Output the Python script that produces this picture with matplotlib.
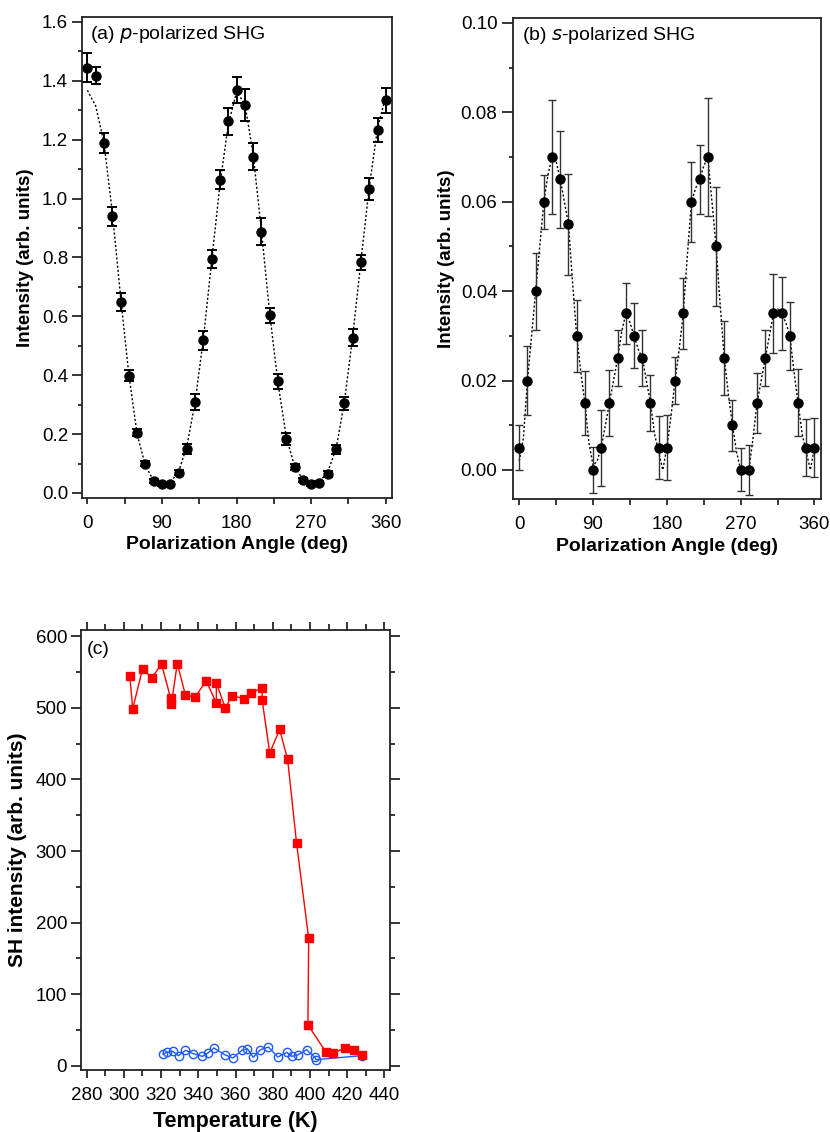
import matplotlib
matplotlib.use("Agg")
import matplotlib.pyplot as plt
from matplotlib.ticker import MultipleLocator, FormatStrFormatter

plt.rcParams["font.family"] = ["Liberation Sans", "DejaVu Sans"]
plt.rcParams["mathtext.fontset"] = "custom"

# (a) p-polarized SHG
angle = [0, 10, 20, 30, 40, 50, 60, 70, 80, 90, 100, 110, 120, 130, 140, 150, 160, 170, 180,
         190, 200, 210, 220, 230, 240, 250, 260, 270, 280, 290, 300, 310, 320, 330, 340, 350, 360]
p_int = [1.445, 1.418, 1.188, 0.940, 0.648, 0.399, 0.204, 0.100, 0.040, 0.030, 0.030, 0.069, 0.148,
         0.309, 0.519, 0.794, 1.064, 1.263, 1.368, 1.318, 1.143, 0.888, 0.603, 0.379, 0.184, 0.089,
         0.044, 0.030, 0.035, 0.064, 0.148, 0.304, 0.528, 0.784, 1.033, 1.233, 1.334]
p_err = [0.048, 0.028, 0.034, 0.032, 0.030, 0.018, 0.012, 0.008, 0.007, 0.007, 0.007, 0.008, 0.017,
         0.028, 0.032, 0.030, 0.032, 0.046, 0.044, 0.055, 0.045, 0.045, 0.024, 0.026, 0.020, 0.010,
         0.008, 0.007, 0.007, 0.009, 0.015, 0.023, 0.028, 0.025, 0.037, 0.040, 0.042]
p_fit = [1.368, 1.315, 1.190, 0.955, 0.668, 0.402, 0.200, 0.092, 0.042, 0.030, 0.036, 0.072, 0.158,
         0.310, 0.525, 0.790, 1.050, 1.252, 1.362, 1.322, 1.150, 0.890, 0.608, 0.372, 0.190, 0.090,
         0.045, 0.030, 0.038, 0.072, 0.150, 0.308, 0.530, 0.788, 1.038, 1.238, 1.348]

# (b) s-polarized SHG
s_int = [0.005, 0.020, 0.040, 0.060, 0.070, 0.065, 0.055, 0.030, 0.015, 0.000, 0.005, 0.015, 0.025,
         0.035, 0.030, 0.025, 0.015, 0.005, 0.005, 0.020, 0.035, 0.060, 0.065, 0.070, 0.050, 0.025,
         0.010, 0.000, 0.000, 0.015, 0.025, 0.035, 0.035, 0.030, 0.015, 0.005, 0.005]
s_err = [0.0050, 0.0077, 0.0086, 0.0060, 0.0127, 0.0109, 0.0113, 0.0081, 0.0072, 0.0051, 0.0085,
         0.0074, 0.0063, 0.0068, 0.0073, 0.0063, 0.0062, 0.0070, 0.0072, 0.0053, 0.0080, 0.0089,
         0.0078, 0.0132, 0.0134, 0.0083, 0.0057, 0.0048, 0.0055, 0.0067, 0.0063, 0.0089, 0.0081,
         0.0076, 0.0075, 0.0063, 0.0066]
fit_angle = [0, 5, 10, 15, 20, 25, 30, 35, 40, 45, 50, 55, 60, 65, 70, 75, 80, 85, 90, 95, 100,
             105, 110, 115, 120, 125, 130, 135, 140, 145, 150, 155, 160, 165, 170, 175, 180, 185,
             190, 195, 200, 205, 210, 215, 220, 225, 230, 235, 240, 245, 250, 255, 260, 265, 270,
             275, 280, 285, 290, 295, 300, 305, 310, 315, 320, 325, 330, 335, 340, 345, 350, 355, 360]
s_fit = [0.002, 0.007, 0.020, 0.030, 0.040, 0.050, 0.060, 0.066, 0.070, 0.069, 0.065, 0.060, 0.055,
         0.042, 0.030, 0.022, 0.015, 0.006, 0.001, 0.002, 0.005, 0.010, 0.015, 0.020, 0.025, 0.031,
         0.035, 0.033, 0.030, 0.027, 0.025, 0.020, 0.015, 0.008, 0.004, 0.000, 0.005, 0.012, 0.020,
         0.027, 0.035, 0.048, 0.060, 0.063, 0.065, 0.068, 0.070, 0.060, 0.050, 0.037, 0.025, 0.017,
         0.010, 0.004, 0.000, 0.000, 0.000, 0.007, 0.015, 0.020, 0.025, 0.030, 0.035, 0.036, 0.035,
         0.033, 0.030, 0.022, 0.015, 0.008, 0.004, 0.000, 0.005]

# (c) temperature dependence
red_T = [303.2, 304.8, 310.1, 314.9, 320.3, 325.1, 325.6, 328.7, 333.1, 338.3, 344.2, 349.7, 349.7,
         354.5, 358.2, 364.5, 368.1, 374.3, 374.3, 378.4, 383.7, 388.0, 392.8, 399.3, 398.9, 408.7,
         412.6, 419.0, 423.5, 427.8]
red_I = [544, 499, 555, 542, 561, 514, 506, 562, 518, 515, 538, 507, 535, 500, 517, 513, 521, 528,
         511, 437, 470, 428, 311, 178, 57, 18.6, 17.7, 25, 22.3, 14.4]
blue_T = [321.0, 323.1, 326.3, 329.4, 333.1, 337.4, 342.2, 345.2, 348.4, 354.2, 358.6, 363.4, 366.4,
          369.5, 373.4, 377.7, 382.7, 387.5, 390.3, 393.4, 398.2, 402.6, 403.3, 427.8]
blue_I = [16.3, 18.6, 20, 14, 21.4, 16.7, 13, 17.7, 24.7, 15.3, 10.7, 21.4, 23.7, 11.6, 22.3, 26,
          12.1, 18.6, 13, 14.9, 22.3, 11.6, 8.4, 14]

TICK_FS = 13.5
LABEL_FS = 14


def style_axes(ax, ymajor_len=7, yminor_len=3, xmajor_len=4.5, xminor_len=4.5, xpad=8, all_sides=False):
    for sp in ax.spines.values():
        sp.set_linewidth(1.3)
        sp.set_color("#222222")
    ax.tick_params(axis="y", which="major", direction="out", length=ymajor_len, width=1.1,
                   labelsize=TICK_FS, pad=3, right=all_sides)
    ax.tick_params(axis="y", which="minor", direction="out", length=yminor_len, width=1.1, right=all_sides)
    ax.tick_params(axis="x", which="major", direction="out", length=xmajor_len, width=1.1,
                   labelsize=TICK_FS, pad=xpad, top=all_sides)
    ax.tick_params(axis="x", which="minor", direction="out", length=xminor_len, width=1.1, top=all_sides)


fig = plt.figure(figsize=(8.3, 11.32), dpi=100)

# panel (a)
ax1 = fig.add_axes([0.0988, 0.5601, 0.3735, 0.4249])
ax1.plot(angle, p_fit, linestyle=(0, (1.5, 1.5)), color="black", linewidth=1.0, zorder=1)
ax1.errorbar(angle, p_int, yerr=p_err, fmt="o", color="black", markersize=6.5,
             elinewidth=1.4, capsize=3.3, capthick=1.4, zorder=2)
ax1.set_xlim(-6.5, 367.5)
ax1.set_ylim(-0.017, 1.617)
ax1.xaxis.set_major_locator(MultipleLocator(90))
ax1.xaxis.set_minor_locator(MultipleLocator(45))
ax1.yaxis.set_major_locator(MultipleLocator(0.2))
ax1.yaxis.set_minor_locator(MultipleLocator(0.1))
ax1.yaxis.set_major_formatter(FormatStrFormatter("%.1f"))
style_axes(ax1)
ax1.set_xlabel("Polarization Angle (deg)", fontsize=LABEL_FS, fontweight="bold", labelpad=3)
ax1.set_ylabel("Intensity (arb. units)", fontsize=13.5, fontweight="bold", labelpad=6)
ax1.text(0.026, 0.985, "(a) $\\it{p}$-polarized SHG", transform=ax1.transAxes,
         fontsize=14, va="top", ha="left")

# panel (b)
ax2 = fig.add_axes([0.6177, 0.5592, 0.3715, 0.4249])
ax2.plot(fit_angle, s_fit, linestyle=(0, (1.5, 1.5)), color="black", linewidth=1.0, zorder=1)
ax2.errorbar(angle, s_int, yerr=s_err, fmt="o", color="black", ecolor="#333333", markersize=6.5,
             elinewidth=1.0, capsize=3.0, capthick=1.0, zorder=2)
ax2.set_xlim(-8, 368)
ax2.set_ylim(-0.0065, 0.1011)
ax2.xaxis.set_major_locator(MultipleLocator(90))
ax2.xaxis.set_minor_locator(MultipleLocator(45))
ax2.yaxis.set_major_locator(MultipleLocator(0.02))
ax2.yaxis.set_minor_locator(MultipleLocator(0.01))
ax2.yaxis.set_major_formatter(FormatStrFormatter("%.2f"))
style_axes(ax2, ymajor_len=8)
ax2.set_xlabel("Polarization Angle (deg)", fontsize=LABEL_FS, fontweight="bold", labelpad=3)
ax2.set_ylabel("Intensity (arb. units)", fontsize=13.5, fontweight="bold", labelpad=4)
ax2.text(0.029, 0.985, "(b) $\\it{s}$-polarized SHG", transform=ax2.transAxes,
         fontsize=14, va="top", ha="left")

# panel (c)
ax3 = fig.add_axes([0.0976, 0.0548, 0.3723, 0.3887])
ax3.plot(blue_T, blue_I, marker="o", markersize=6, markerfacecolor="none", markeredgecolor="#1f5cff",
         markeredgewidth=1.0, color="#1f5cff", linewidth=1.0, zorder=2)
ax3.plot(red_T, red_I, marker="s", markersize=6.3, color="#ff0000", linewidth=1.0, zorder=3)
ax3.set_xlim(277, 443)
ax3.set_ylim(-6, 609)
ax3.xaxis.set_major_locator(MultipleLocator(20))
ax3.xaxis.set_minor_locator(MultipleLocator(10))
ax3.yaxis.set_major_locator(MultipleLocator(100))
ax3.yaxis.set_minor_locator(MultipleLocator(50))
style_axes(ax3, ymajor_len=7, yminor_len=3.5, xmajor_len=6, xminor_len=4, xpad=6, all_sides=True)
ax3.tick_params(labelright=False, labeltop=False)
ax3.set_xlabel("Temperature (K)", fontsize=15.5, fontweight="bold", labelpad=5)
ax3.set_ylabel("SH intensity (arb. units)", fontsize=15, fontweight="bold", labelpad=6)
ax3.text(0.018, 0.975, "(c)", transform=ax3.transAxes, fontsize=14, va="top", ha="left")

fig.savefig("out.png", dpi=100)
